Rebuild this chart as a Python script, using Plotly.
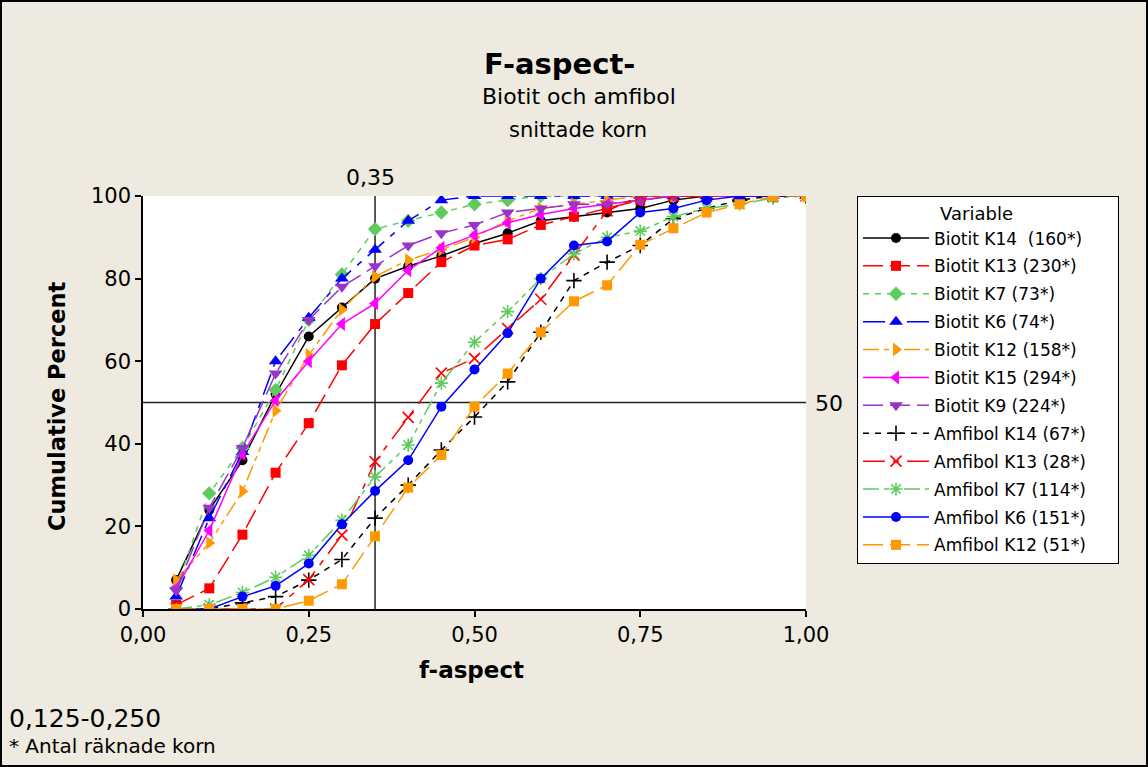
import plotly.graph_objects as go

# ---------------- data ----------------
x = [0.05, 0.10, 0.15, 0.20, 0.25, 0.30, 0.35, 0.40, 0.45, 0.50,
     0.55, 0.60, 0.65, 0.70, 0.75, 0.80, 0.85, 0.90, 0.95, 1.00]

biotit_k14 = [7, 24, 36, 52, 66, 73, 80, 83, 85.5, 88.5, 91, 94, 95, 96, 97, 99, 100, 100, 100, 100]
biotit_k13 = [1, 5, 18, 33, 45, 59, 69, 76.5, 84, 88, 89.5, 93, 95, 97, 99, 100, 100, 100, 100, 100]
biotit_k7 = [5, 28, 39, 53, 70, 81, 92, 94, 96, 98, 99, 100, 100, 100, 100, 100, 100, 100, 100, 100]
biotit_k6 = [3, 22, 38, 60, 70.5, 80, 87, 94, 99, 100, 100, 100, 100, 100, 100, 100, 100, 100, 100, 100]
biotit_k12 = [7, 16, 28.5, 48, 61.5, 72.5, 80.5, 84.5, 87, 90, 94, 97, 98, 99, 100, 100, 100, 100, 100, 100]
biotit_k15 = [5, 19, 37.5, 50.5, 60, 69, 74, 82, 87.5, 90.5, 93.5, 95.5, 97, 98, 99, 100, 100, 100, 100, 100]
biotit_k9 = [4.5, 24.5, 39, 57, 70, 78, 83, 88, 91, 93, 96, 97, 98, 98, 99, 100, 100, 100, 100, 100]

amfibol_k14 = [0, 0, 1.5, 3, 7, 12, 22, 30, 38.5, 46.5, 55, 67, 79.5, 84, 88, 94.5, 97, 99, 100, 100]
amfibol_k13 = [0, 0, 0, 0, 7.1, 17.9, 35.7, 46.4, 57.1, 60.7, 67.9, 75, 85.7, 96.4, 100, 100, 100, 100, 100, 100]
amfibol_k7 = [0, 1, 4, 7.7, 13, 21.5, 32, 39.7, 54.7, 64.6, 72, 80, 86, 90, 91.5, 95, 97, 98, 99.5, 100]
amfibol_k6 = [0, 0, 3, 5.6, 11, 20.5, 28.6, 36, 49, 58, 66.8, 80, 88, 89, 96, 97, 99, 100, 100, 100]
amfibol_k12 = [0, 0, 0, 0, 2, 6, 17.6, 29.4, 37.3, 49, 57, 67, 74.5, 78.4, 88.2, 92.2, 96, 98, 100, 100]

names = ["Biotit K14\u00a0 (160*)", "Biotit K13 (230*)", "Biotit K7 (73*)", "Biotit K6 (74*)",
         "Biotit K12 (158*)", "Biotit K15 (294*)", "Biotit K9 (224*)", "Amfibol K14 (67*)",
         "Amfibol K13 (28*)", "Amfibol K7 (114*)", "Amfibol K6 (151*)", "Amfibol K12 (51*)"]
values = [biotit_k14, biotit_k13, biotit_k7, biotit_k6, biotit_k12, biotit_k15, biotit_k9,
          amfibol_k14, amfibol_k13, amfibol_k7, amfibol_k6, amfibol_k12]

x_ticks = [0, 0.25, 0.5, 0.75, 1.0]
y_ticks = [0, 20, 40, 60, 80, 100]
ref_x = 0.35
ref_y = 50

# ---------------- styles ----------------
colors = ["#000000", "#FF0000", "#5FCB5F", "#0000FF", "#FF9900", "#FF00FF", "#9933CC",
          "#000000", "#FF0000", "#5FCB5F", "#0000FF", "#FF9900"]
symbols = ["circle", "square", "diamond", "triangle-up", "triangle-right", "triangle-left",
           "triangle-down", "cross-thin", "x-thin", "asterisk", "circle", "square"]
LONG = "20px,7px"
SHORT = "6px,6px"
LS = "22px,8px,6px,8px"
LSS = "16px,5px,5px,5px,5px,5px"
dashes = ["solid", LONG, SHORT, LS, LSS, "solid", LONG, SHORT, LS, LSS, "solid", LONG]
sizes = [10, 10, 11, 12, 12, 12, 12, 11, 11, 11, 10, 10]
thin = {"cross-thin", "x-thin", "asterisk"}

FONT = "DejaVu Sans"
BG = "#EEEADF"
PAD = "\u00a0" * 5

# pixel -> paper helpers (plot area: x 143..806, y 196..609)
L, T, W, H = 143, 196, 663, 413
def px(v):
    return (v - L) / W
def py(v):
    return (T + H - v) / H

fig = go.Figure()
for i, (nm, vals) in enumerate(zip(names, values)):
    sym = symbols[i]
    marker = dict(symbol=sym, size=sizes[i], color=colors[i])
    if sym in thin:
        marker["line"] = dict(color=colors[i], width=1.6)
    else:
        marker["line"] = dict(width=0)
    fig.add_trace(go.Scatter(
        x=x, y=vals, name=nm + PAD, mode="lines+markers",
        line=dict(color=colors[i], width=1.5, dash=dashes[i]),
        marker=marker, legendgroup=f"g{i}",
    ))

# reference lines
fig.add_shape(type="line", xref="x", yref="y", x0=ref_x, x1=ref_x, y0=0, y1=100,
              line=dict(color="#222222", width=1.5), layer="below")
fig.add_shape(type="line", xref="x", yref="y", x0=0, x1=1, y0=ref_y, y1=ref_y,
              line=dict(color="#222222", width=1.5), layer="below")

# outer frame
fig.add_shape(type="rect", xref="paper", yref="paper",
              x0=px(1), x1=px(1147), y0=py(766), y1=py(1),
              line=dict(color="#000000", width=2), fillcolor="rgba(0,0,0,0)")

ann = []
def text(t, x0, y0, size, xanchor="center", bold=False, textangle=0):
    ann.append(dict(text=(f"<b>{t}</b>" if bold else t), x=px(x0), y=py(y0),
                    xref="paper", yref="paper", showarrow=False,
                    xanchor=xanchor, yanchor="middle", textangle=textangle,
                    font=dict(family=FONT, size=size, color="#000000")))

text("F-aspect-", 559, 64, 29, bold=True)
text("Biotit och amfibol", 579, 97, 22)
text("snittade korn", 578, 130, 21)
text("0,35", 370, 177, 22)
text("50", 813, 403, 22, xanchor="left")
text("Cumulative Percent", 57, 406, 22.5, bold=True, textangle=-90)
text("f-aspect", 471, 670, 23, bold=True)
text("0,125-0,250", 7, 718, 25, xanchor="left")
text("* Antal räknade korn", 7, 746, 20, xanchor="left")

fig.update_layout(
    width=1148, height=767,
    margin=dict(l=L, r=1148 - L - W, t=T, b=767 - T - H),
    paper_bgcolor=BG, plot_bgcolor="#FFFFFF",
    separators=", ",
    font=dict(family=FONT, size=20, color="#000000"),
    showlegend=True,
    legend=dict(
        x=px(857), y=1, xanchor="left", yanchor="top",
        bgcolor="#FFFFFF", bordercolor="#000000", borderwidth=1,
        font=dict(family=FONT, size=17, color="#000000"),
        title=dict(text="\u00a0" * 14 + "Variable", font=dict(family=FONT, size=18)),
        tracegroupgap=2.8, traceorder="grouped", itemwidth=66,
    ),
    annotations=ann,
    xaxis=dict(range=[0, 1], tickvals=x_ticks, tickformat=".2f",
               showline=True, linecolor="#000000", linewidth=1.5,
               ticks="outside", ticklen=6, tickwidth=1.5, tickcolor="#000000",
               showgrid=False, zeroline=False,
               tickfont=dict(family=FONT, size=21)),
    yaxis=dict(range=[0, 100], tickvals=y_ticks,
               showline=True, linecolor="#000000", linewidth=1.5,
               ticks="outside", ticklen=6, tickwidth=1.5, tickcolor="#000000",
               showgrid=False, zeroline=False,
               tickfont=dict(family=FONT, size=21)),
)

fig.write_html("out.html")
